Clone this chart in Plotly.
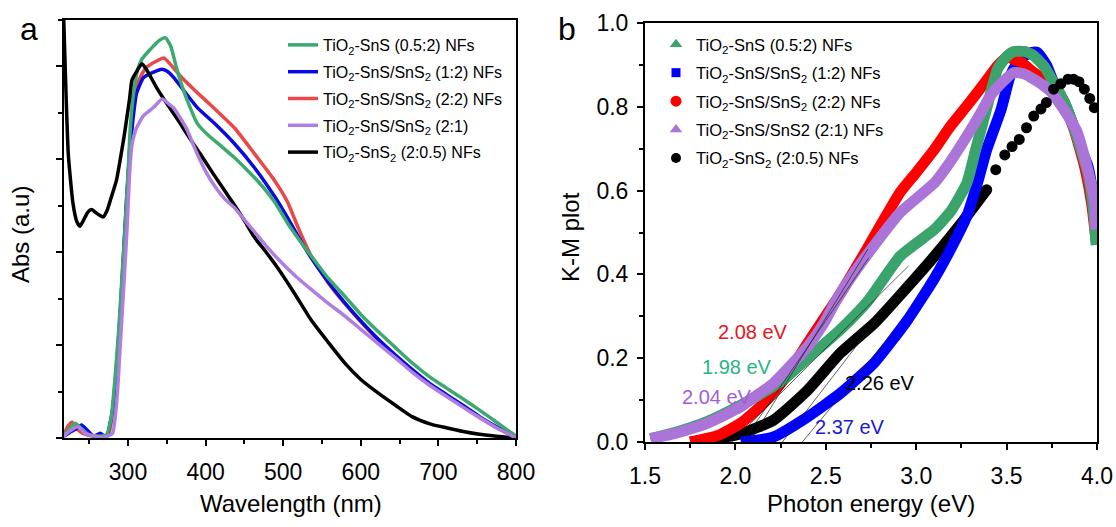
import plotly.graph_objects as go

# ---------------- Panel a: absorbance ----------------
wl_green = [217, 224, 232, 240, 250, 262, 272, 278, 283, 288, 292, 296, 300, 303, 307, 312, 318, 325, 335, 342, 348,
            355, 362, 370, 378, 389, 402, 419, 437, 454, 470, 489, 505, 520, 536, 558, 580, 600, 623, 645, 666, 690,
            710, 732, 753, 775, 800]
abs_green = [0.02, 0.10, 0.16, 0.10, 0.03, 0.02, 0.03, 0.20, 0.62, 1.16, 1.70, 2.24, 2.85, 3.35, 3.70, 3.95, 4.08,
             4.15, 4.24, 4.29, 4.31, 4.22, 4.00, 3.78, 3.60, 3.39, 3.27, 3.15, 3.02, 2.88, 2.74, 2.54, 2.32, 2.14,
             1.96, 1.72, 1.52, 1.33, 1.14, 0.97, 0.81, 0.65, 0.54, 0.42, 0.30, 0.17, 0.02]

wl_blue = [217, 225, 233, 240, 248, 256, 264, 272, 280, 285, 290, 294, 298, 302, 306, 311, 320, 333, 344, 350, 359,
           372, 389, 411, 437, 463, 489, 505, 520, 536, 558, 580, 600, 623, 645, 666, 690, 710, 732, 753, 775, 800]
abs_blue = [0.02, 0.06, 0.10, 0.14, 0.08, 0.02, 0.05, 0.01, 0.30, 0.75, 1.35, 1.95, 2.55, 3.05, 3.40, 3.71, 3.88,
            3.94, 3.97, 3.95, 3.88, 3.74, 3.56, 3.39, 3.17, 2.91, 2.60, 2.38, 2.16, 1.94, 1.68, 1.45, 1.26, 1.06,
            0.89, 0.74, 0.58, 0.47, 0.35, 0.23, 0.12, 0.01]

wl_red = [217, 222, 228, 234, 242, 255, 268, 275, 280, 285, 290, 294, 298, 302, 306, 311, 318, 324, 335, 346, 355,
          367, 389, 411, 437, 463, 489, 505, 520, 536, 558, 580, 600, 623, 645, 666, 690, 710, 732, 753, 775, 800]
abs_red = [0.03, 0.12, 0.17, 0.10, 0.05, 0.02, 0.02, 0.05, 0.25, 0.70, 1.30, 1.90, 2.50, 3.10, 3.50, 3.78, 3.92,
           3.99, 4.05, 4.09, 4.02, 3.90, 3.72, 3.55, 3.34, 3.06, 2.77, 2.55, 2.25, 1.96, 1.67, 1.44, 1.25, 1.05,
           0.88, 0.73, 0.57, 0.46, 0.34, 0.22, 0.11, 0.01]

wl_purple = [217, 226, 235, 245, 258, 270, 280, 286, 290, 295, 299, 302, 305, 311, 320, 333, 344, 352, 359, 367, 376,
             385, 393, 402, 411, 424, 437, 452, 467, 480, 493, 515, 536, 558, 580, 600, 623, 645, 666, 690, 710, 732,
             753, 775, 800]
abs_purple = [0.02, 0.08, 0.12, 0.05, 0.02, 0.01, 0.05, 0.45, 1.00, 1.70, 2.30, 2.85, 3.15, 3.34, 3.47, 3.56, 3.65,
              3.60, 3.55, 3.45, 3.32, 3.14, 2.99, 2.84, 2.72, 2.58, 2.48, 2.33, 2.18, 2.05, 1.93, 1.75, 1.60, 1.45,
              1.31, 1.17, 1.01, 0.86, 0.71, 0.56, 0.45, 0.33, 0.22, 0.11, 0.00]

wl_black = [217, 219, 223, 229, 234, 238, 243, 248, 253, 258, 263, 268, 273, 278, 285, 290, 295, 298, 302, 305, 310,
            318, 325, 337, 350, 367, 380, 393, 411, 424, 437, 450, 463, 478, 493, 515, 536, 558, 580, 600, 623, 645,
            666, 690, 710, 732, 753, 775, 800]
abs_black = [4.55, 4.00, 3.06, 2.53, 2.33, 2.28, 2.35, 2.43, 2.46, 2.43, 2.40, 2.38, 2.45, 2.58, 2.77, 3.00, 3.25,
             3.42, 3.65, 3.85, 3.93, 4.03, 3.95, 3.77, 3.60, 3.39, 3.22, 3.06, 2.83, 2.67, 2.51, 2.34, 2.16, 2.00,
             1.83, 1.55, 1.27, 1.03, 0.80, 0.63, 0.48, 0.35, 0.23, 0.15, 0.11, 0.07, 0.04, 0.02, 0.00]

# ---------------- Panel b: K-M plot ----------------
E_green = [1.53, 1.66, 1.84, 2.03, 2.18, 2.27, 2.40, 2.58, 2.73, 2.91, 3.10, 3.19, 3.28, 3.33, 3.38, 3.45, 3.50, 3.54,
           3.60, 3.65, 3.71, 3.76, 3.82, 3.87, 3.91, 3.95, 3.98, 3.995]
K_green = [0.008, 0.022, 0.048, 0.088, 0.125, 0.150, 0.200, 0.268, 0.335, 0.443, 0.507, 0.550, 0.618, 0.700, 0.780,
           0.890, 0.920, 0.932, 0.932, 0.922, 0.895, 0.858, 0.810, 0.754, 0.700, 0.640, 0.555, 0.470]

E_blue = [2.03, 2.21, 2.40, 2.58, 2.77, 2.95, 3.10, 3.19, 3.28, 3.34, 3.39, 3.47, 3.52, 3.56, 3.60, 3.64, 3.67, 3.72,
          3.76, 3.82, 3.87, 3.91, 3.95, 3.98, 3.995]
K_blue = [0.000, 0.012, 0.060, 0.116, 0.190, 0.290, 0.390, 0.460, 0.539, 0.620, 0.698, 0.794, 0.874, 0.905, 0.922,
          0.930, 0.930, 0.900, 0.858, 0.810, 0.754, 0.700, 0.658, 0.580, 0.500]

E_red = [1.75, 1.90, 2.03, 2.15, 2.27, 2.40, 2.51, 2.56, 2.70, 2.91, 3.00, 3.10, 3.19, 3.28, 3.38, 3.45, 3.50, 3.58,
         3.65, 3.73, 3.80, 3.87, 3.93, 3.97, 3.995]
K_red = [0.000, 0.015, 0.045, 0.090, 0.150, 0.236, 0.308, 0.340, 0.440, 0.595, 0.643, 0.698, 0.754, 0.802, 0.858,
         0.898, 0.918, 0.906, 0.882, 0.858, 0.820, 0.750, 0.660, 0.570, 0.480]

E_purple = [1.53, 1.66, 1.84, 2.03, 2.08, 2.21, 2.30, 2.40, 2.49, 2.56, 2.70, 2.91, 3.10, 3.19, 3.28, 3.35, 3.41, 3.48,
            3.54, 3.60, 3.65, 3.70, 3.75, 3.84, 3.89, 3.93, 3.96, 3.985, 3.995]
K_purple = [0.008, 0.020, 0.044, 0.084, 0.100, 0.140, 0.180, 0.228, 0.284, 0.340, 0.430, 0.547, 0.618, 0.670, 0.730,
            0.780, 0.826, 0.860, 0.882, 0.878, 0.866, 0.852, 0.834, 0.778, 0.740, 0.682, 0.630, 0.578, 0.507]

E_black = [1.75, 1.85, 2.03, 2.21, 2.40, 2.58, 2.77, 2.91, 3.10, 3.28, 3.39, 3.44, 3.49, 3.53, 3.57, 3.61, 3.65, 3.69,
           3.72, 3.76, 3.80, 3.84, 3.87, 3.90, 3.93, 3.96, 3.985]
K_black = [0.000, 0.005, 0.020, 0.052, 0.124, 0.212, 0.284, 0.350, 0.443, 0.539, 0.602, 0.650, 0.685, 0.705, 0.722,
           0.750, 0.778, 0.795, 0.810, 0.842, 0.855, 0.866, 0.866, 0.860, 0.842, 0.820, 0.798]

# band gaps (eV) from tangent fits and their label texts
gap_names = ["red", "green", "purple", "black", "blue"]
gap_values = [2.08, 1.98, 2.04, 2.26, 2.37]
gap_slopes = [0.705, 0.43, 0.63, 0.56, 0.52]
gap_top = [0.46, 0.42, 0.44, 0.30, 0.26]
gap_label_E = [2.10, 2.01, 1.90, 2.80, 2.636]
gap_label_K = [0.263, 0.179, 0.108, 0.141, 0.036]

labels_a = ["TiO<sub>2</sub>-SnS (0.5:2) NFs", "TiO<sub>2</sub>-SnS/SnS<sub>2</sub> (1:2) NFs",
            "TiO<sub>2</sub>-SnS/SnS<sub>2</sub> (2:2) NFs", "TiO<sub>2</sub>-SnS/SnS<sub>2</sub> (2:1)",
            "TiO<sub>2</sub>-SnS<sub>2</sub> (2:0.5) NFs"]
labels_b = ["TiO<sub>2</sub>-SnS (0.5:2) NFs", "TiO<sub>2</sub>-SnS/SnS<sub>2</sub> (1:2) NFs",
            "TiO<sub>2</sub>-SnS/SnS<sub>2</sub> (2:2) NFs", "TiO<sub>2</sub>-SnS/SnS2 (2:1) NFs",
            "TiO<sub>2</sub>-SnS<sub>2</sub> (2:0.5) NFs"]

FONT = "Arial, Liberation Sans, sans-serif"
W, H = 1116, 527

col_a = {"green": "#3caa6e", "blue": "#0a0ae0", "red": "#e84848", "purple": "#b07ee0", "black": "#000000"}
col_b = {"green": "#3aa46c", "blue": "#0000ff", "red": "#ff0000", "purple": "#aa74d8", "black": "#000000"}
col_lbl = {"red": "#e8141c", "green": "#2ab584", "purple": "#a25ddc", "black": "#000000", "blue": "#1a1ad6"}

fig = go.Figure()

# ---- panel a traces (draw order), legend order via legendrank
series_a = [
    ("red", wl_red, abs_red, 3),
    ("blue", wl_blue, abs_blue, 2),
    ("green", wl_green, abs_green, 1),
    ("black", wl_black, abs_black, 5),
    ("purple", wl_purple, abs_purple, 4),
]
for name, xs, ys, rank in series_a:
    fig.add_trace(go.Scatter(
        x=xs, y=ys, mode="lines", line=dict(color=col_a[name], width=3.5, shape="spline", smoothing=0.5),
        name=labels_a[rank - 1], legend="legend", legendrank=rank, legendgroup="a" + name,
        xaxis="x", yaxis="y"))

# ---- panel b bands
series_b = [
    ("black", E_black[:11], K_black[:11]),
    ("blue", E_blue, K_blue),
    ("red", E_red, K_red),
    ("green", E_green, K_green),
    ("purple", E_purple, K_purple),
]
for name, xs, ys in series_b:
    fig.add_trace(go.Scatter(
        x=xs, y=ys, mode="lines", line=dict(color=col_b[name], width=11, shape="spline", smoothing=0.5),
        showlegend=False, xaxis="x2", yaxis="y2", hoverinfo="skip"))
# black dotted tail
fig.add_trace(go.Scatter(
    x=E_black[10:], y=K_black[10:], mode="markers",
    marker=dict(color="black", size=11, symbol="circle"),
    showlegend=False, xaxis="x2", yaxis="y2"))

# tangent fit lines
for g, s, t in zip(gap_values, gap_slopes, gap_top):
    fig.add_trace(go.Scatter(
        x=[g, g + t / s], y=[0, t], mode="lines", line=dict(color="#222222", width=0.7),
        showlegend=False, xaxis="x2", yaxis="y2", hoverinfo="skip"))

# legend entries for panel b
leg_b = [("green", "triangle-up", 11), ("blue", "square", 9), ("red", "circle", 11),
         ("purple", "triangle-up", 11), ("black", "circle", 10)]
for i, (name, sym, sz) in enumerate(leg_b):
    fig.add_trace(go.Scatter(
        x=[None], y=[None], mode="markers", marker=dict(color=col_b[name], symbol=sym, size=sz),
        name=labels_b[i], legend="legend2", legendrank=i + 1, legendgroup="b" + name,
        xaxis="x2", yaxis="y2"))

# band gap labels
for name, g, ex, ky in zip(gap_names, gap_values, gap_label_E, gap_label_K):
    fig.add_annotation(x=ex, y=ky, xref="x2", yref="y2", text=f"{g:.2f} eV", showarrow=False,
                       xanchor="center", yanchor="middle",
                       font=dict(family=FONT, size=20, color=col_lbl[name]))


def px_x(p):
    return p / W


def px_y(p):
    return 1 - p / H


axis_common = dict(showline=True, linecolor="black", linewidth=2, mirror=True, ticks="outside",
                   ticklen=6, tickwidth=2, tickcolor="black", showgrid=False, zeroline=False,
                   automargin=False, tickfont=dict(family=FONT, size=23, color="black"))

fig.update_layout(
    width=W, height=H, margin=dict(l=0, r=0, t=0, b=0, autoexpand=False),
    paper_bgcolor="white", plot_bgcolor="white",
    xaxis=dict(domain=[px_x(64), px_x(516)], range=[217.5, 800], tickvals=[300, 400, 500, 600, 700, 800],
               minor=dict(ticks="outside", ticklen=4, tickwidth=2, tickcolor="black", dtick=50, tick0=0),
               anchor="y", ticklabelstandoff=6, **axis_common),
    yaxis=dict(domain=[px_y(438), px_y(20)], range=[0, 4.5], tickvals=[0, 1, 2, 3, 4], showticklabels=False,
               minor=dict(ticks="outside", ticklen=4, tickwidth=2, tickcolor="black", dtick=0.5, tick0=0),
               anchor="x", **axis_common),
    xaxis2=dict(domain=[px_x(645), px_x(1097)], range=[1.5, 4.0], dtick=0.5, tick0=1.5, tickformat=".1f",
                minor=dict(ticks="outside", ticklen=4, tickwidth=2, tickcolor="black", dtick=0.25, tick0=1.5),
                anchor="y2", ticklabelstandoff=6, **axis_common),
    yaxis2=dict(domain=[px_y(442), px_y(23)], range=[0, 1.0], dtick=0.2, tick0=0, tickformat=".1f",
                minor=dict(ticks="outside", ticklen=4, tickwidth=2, tickcolor="black", dtick=0.1, tick0=0),
                anchor="x2", ticklabelstandoff=4, **axis_common),
    legend=dict(x=px_x(283), y=px_y(28), xanchor="left", yanchor="top", bgcolor="rgba(0,0,0,0)",
                font=dict(family=FONT, size=16, color="black"), tracegroupgap=3, borderwidth=0),
    legend2=dict(x=px_x(656), y=px_y(27), xanchor="left", yanchor="top", bgcolor="rgba(0,0,0,0)",
                 font=dict(family=FONT, size=16.5, color="black"), tracegroupgap=4, borderwidth=0),
)

# axis titles and panel letters
def note(x, y, text, size, angle=0):
    fig.add_annotation(x=px_x(x), y=px_y(y), xref="paper", yref="paper", text=text, textangle=angle,
                       xanchor="center", yanchor="middle", showarrow=False,
                       font=dict(family=FONT, size=size, color="black"))


note(20, 235, "Abs (a.u)", 24, -90)
note(291, 503, "Wavelength (nm)", 24)
note(570, 237, "K-M plot", 24, -90)
note(871, 503, "Photon energy (eV)", 24)
note(29, 29, "a", 32)
note(567, 29, "b", 32)

fig.write_html("out.html")
